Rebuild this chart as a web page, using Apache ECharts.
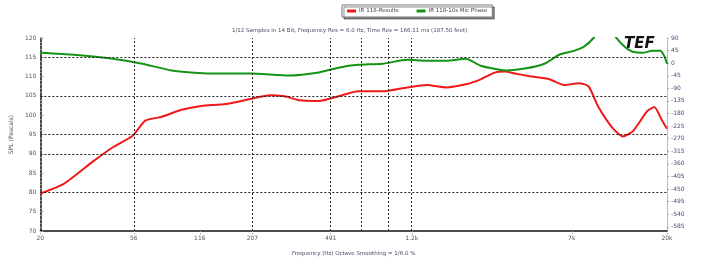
<!DOCTYPE html>
<html>
<head>
<meta charset="utf-8">
<script src="https://cdn.jsdelivr.net/npm/echarts@6/dist/echarts.min.js"></script>
<style>
  html, body { margin: 0; padding: 0; background: #fff; }
  #chart { width: 710px; height: 262px; }
</style>
</head>
<body>
<div id="chart"></div>
<script>
// frequency (Hz) / level (dB) of the magnitude trace
const splFreq = [20, 25.9, 35.9, 44.5, 55.3, 63.6, 76.4, 94.9, 117.8, 154, 202, 251, 295, 347, 431, 535, 664, 870, 1140, 1416, 1757, 2180, 2564, 3016, 3360, 3744, 4402, 5466, 6428, 7558, 8422, 9388, 11038, 12298, 13700, 16112, 17380, 18946, 20000]
const splValue = [79.7, 82.2, 88.1, 91.7, 94.7, 98.6, 99.6, 101.4, 102.4, 102.9, 104.2, 105.2, 104.9, 103.9, 103.7, 104.9, 106.2, 106.2, 107.2, 107.8, 107.2, 108.0, 109.3, 111.1, 111.3, 110.8, 110.1, 109.3, 107.8, 108.3, 107.5, 102.1, 96.5, 94.5, 95.8, 101.1, 102.1, 98.6, 96.5]

// frequency (Hz) / phase (deg) of the phase trace
const phaseFreq = [20, 28.9, 44.5, 61.6, 85.1, 131, 202, 311, 431, 535, 664, 870, 1140, 1416, 1757, 2180, 2564, 3360, 4170, 5178, 6090, 7162, 7980, 8892, 9592, 10458, 11400, 12704, 13700, 15260, 17008, 18542, 19360, 20000]
const phaseValue = [37, 30, 16, -2, -26, -37, -37, -44, -33, -16, -6, -2, 12, 9, 9, 16, -9, -26, -19, -2, 30, 44, 58, 90, 130, 140, 92, 55, 41, 37, 44, 44, 27, -2]

const xLabels = [20, 56, 116, 207, 491, 1200, 7000, 20000]
const xGrid = [56, 207, 491, 686, 928, 1190]
const yGrid = [115, 105, 95, 90, 80]
const phaseLabels = [90, 45, 0, -45, -90, -135, -180, -225, -270, -315, -360, -405, -450, -495, -540, -585]

const names = ['IR 118-Results', 'IR 118-10s Mic Phase']
const tiny = { fontSize: 6, fontFamily: 'DejaVu Sans', color: '#555' }

const chart = echarts.init(document.getElementById('chart'))

const gridMarks = {
  silent: true,
  symbol: 'none',
  label: { show: false },
  lineStyle: { color: '#222', type: [2, 2], width: 1 },
  emphasis: { disabled: true },
  data: [
    ...xGrid.map(v => ({ xAxis: v })),
    ...yGrid.map(v => ({ yAxis: v }))
  ]
}

chart.setOption({
  animation: false,
  title: {
    text: '1/12 Samples in 14 Bit, Frequency Res = 6.0 Hz, Time Res = 166.11 ms (187.50 feet)',
    left: 232, top: 28, padding: 0,
    textStyle: { ...tiny, fontSize: 5.5, fontWeight: 'normal', color: '#4a4a6a' }
  },
  legend: {
    left: 342, top: 5,
    padding: [3, 5],
    itemWidth: 9, itemHeight: 3, itemGap: 18,
    icon: 'rect',
    borderColor: '#777', borderWidth: 1,
    backgroundColor: '#fff',
    shadowColor: 'rgba(0,0,0,0.45)', shadowOffsetX: 2, shadowOffsetY: 2, shadowBlur: 0,
    textStyle: { ...tiny, fontSize: 5.5, color: '#444', padding: [0, 0, 0, -2] },
    data: names
  },
  graphic: [{
    type: 'text', left: 624, top: 37,
    style: { text: 'TEF', fontSize: 15, fontWeight: 'bold', fontStyle: 'italic', fontFamily: 'DejaVu Sans', fill: '#111' }
  }],
  grid: { left: 26, right: 43, top: 38, bottom: 28 },
  xAxis: {
    type: 'log', logBase: 10, min: 20, max: 20000,
    name: 'Frequency (Hz) Octave Smoothing = 1/6.0 %',
    nameLocation: 'middle', nameGap: 20,
    nameTextStyle: { ...tiny, fontSize: 5.5, color: '#4a4a6a' },
    axisLine: { onZero: false, lineStyle: { color: '#111', width: 1.5 } },
    axisTick: { customValues: xLabels, length: 3, lineStyle: { color: '#999', type: 'dotted' } },
    axisLabel: {
      ...tiny, margin: 4,
      customValues: xLabels,
      formatter: v => v >= 1000 ? (v / 1000) + 'k' : String(Math.round(v))
    },
    splitLine: { show: false }
  },
  yAxis: [{
    type: 'value', min: 70, max: 120, interval: 5,
    name: 'SPL (Pascals)', nameLocation: 'middle', nameGap: 15,
    nameTextStyle: { ...tiny },
    axisLine: { show: true, lineStyle: { color: '#111', width: 1.5 } },
    axisTick: { show: true, inside: true, length: 3, lineStyle: { color: '#999' } },
    minorTick: { show: true, splitNumber: 5, length: 2, lineStyle: { color: '#aaa' } },
    axisLabel: { ...tiny, margin: 4 },
    splitLine: { show: false }
  }, {
    type: 'value', min: -600, max: 90,
    position: 'right',
    axisLine: { show: true, onZero: false, lineStyle: { color: '#aaa', type: 'dotted' } },
    axisTick: { show: true, customValues: phaseLabels, length: 2, lineStyle: { color: '#aaa' } },
    axisLabel: { ...tiny, color: '#4a4a7a', margin: 4, customValues: phaseLabels },
    splitLine: { show: false }
  }],
  series: [{
    name: names[0],
    type: 'line',
    yAxisIndex: 0,
    data: splFreq.map((f, i) => [f, splValue[i]]),
    smooth: 0.2,
    showSymbol: false,
    lineStyle: { color: '#f01818', width: 2 },
    itemStyle: { color: '#f01818' },
    markLine: gridMarks,
    z: 3
  }, {
    name: names[1],
    type: 'line',
    yAxisIndex: 1,
    data: phaseFreq.map((f, i) => [f, phaseValue[i]]),
    smooth: 0.2,
    clip: true,
    showSymbol: false,
    lineStyle: { color: '#149414', width: 2 },
    itemStyle: { color: '#149414' },
    z: 4
  }]
})
</script>
</body>
</html>
